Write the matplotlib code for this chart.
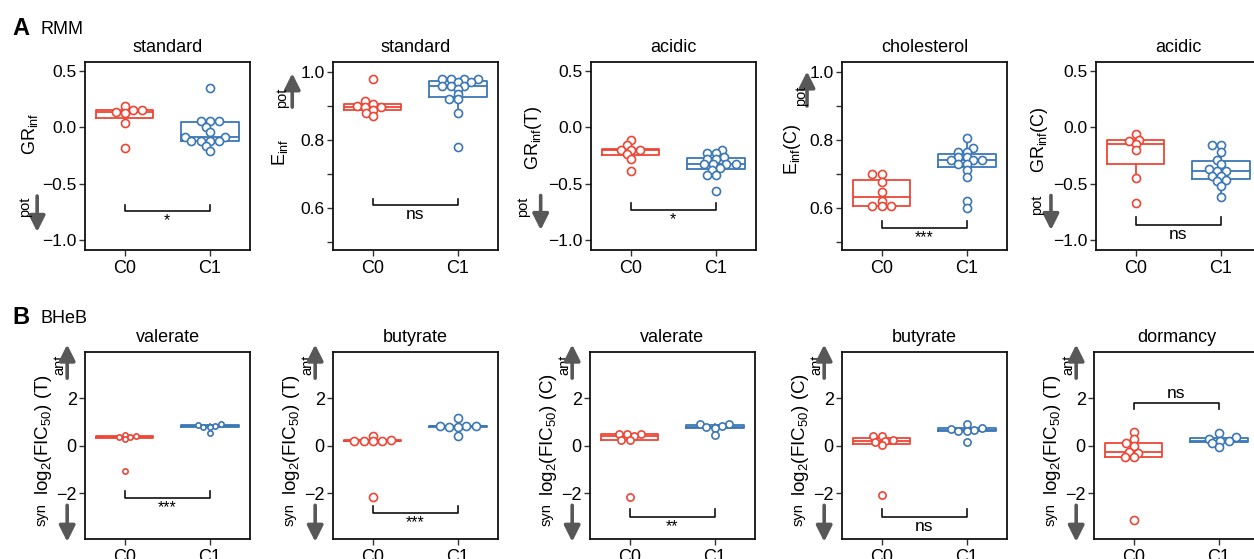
import numpy as np
import matplotlib.pyplot as plt

plt.rcParams['font.family'] = ['Liberation Sans', 'DejaVu Sans']
plt.rcParams['mathtext.fontset'] = 'custom'
plt.rcParams['mathtext.rm'] = 'Liberation Sans'
plt.rcParams['mathtext.it'] = 'Liberation Sans:italic'
plt.rcParams['mathtext.bf'] = 'Liberation Sans:bold'

RED = '#EE4636'
BLUE = '#3C77B6'
ARROW = '#585858'

groups = ['C0', 'C1']

# --- row A: RMM ---
a_titles = ['standard', 'standard', 'acidic', 'cholesterol', 'acidic']
a_ylabels = [r'GR$_{\rm inf}$', r'E$_{\rm inf}$', r'GR$_{\rm inf}$(T)',
             r'E$_{\rm inf}$(C)', r'GR$_{\rm inf}$(C)']
a_sig = ['*', 'ns', '*', '***', 'ns']

a1_c0 = [0.19, 0.15, 0.15, 0.14, 0.13, 0.04, -0.18]
a1_c1 = [0.35, 0.06, 0.06, 0.06, 0.0, -0.04, -0.09, -0.09, -0.12, -0.12,
         -0.12, -0.12, -0.17, -0.21]
a2_c0 = [0.98, 0.915, 0.907, 0.90, 0.897, 0.897, 0.889, 0.88, 0.87]
a2_c1 = [0.98, 0.98, 0.98, 0.98, 0.97, 0.97, 0.96, 0.96, 0.96, 0.95, 0.935,
         0.92, 0.92, 0.88, 0.78]
a3_c0 = [-0.11, -0.16, -0.20, -0.20, -0.20, -0.24, -0.28, -0.39]
a3_c1 = [-0.20, -0.23, -0.23, -0.26, -0.28, -0.28, -0.33, -0.33, -0.33,
         -0.33, -0.36, -0.38, -0.42, -0.42, -0.57]
a4_c0 = [0.70, 0.70, 0.675, 0.645, 0.62, 0.605, 0.605, 0.605]
a4_c1 = [0.805, 0.775, 0.765, 0.765, 0.75, 0.75, 0.74, 0.74, 0.74, 0.73,
         0.73, 0.71, 0.69, 0.62, 0.60]
a5_c0 = [-0.06, -0.11, -0.12, -0.15, -0.20, -0.45, -0.67]
a5_c1 = [-0.16, -0.16, -0.22, -0.29, -0.33, -0.37, -0.39, -0.39, -0.43,
         -0.43, -0.47, -0.48, -0.52, -0.62]

# --- row B: BHeB ---
b_titles = ['valerate', 'butyrate', 'valerate', 'butyrate', 'dormancy']
b_ylabels = [r'log$_2$(FIC$_{50}$) (T)', r'log$_2$(FIC$_{50}$) (T)',
             r'log$_2$(FIC$_{50}$) (C)', r'log$_2$(FIC$_{50}$) (C)',
             r'log$_2$(FIC$_{50}$) (T)']
b_sig = ['***', '***', '**', 'ns', 'ns']

b1_c0 = [0.47, 0.42, 0.38, 0.35, 0.30, -1.07]
b1_c1 = [0.90, 0.88, 0.85, 0.80, 0.78, 0.52]
b2_c0 = [0.42, 0.23, 0.22, 0.21, 0.20, 0.19, -2.15]
b2_c1 = [1.18, 0.85, 0.83, 0.82, 0.80, 0.78, 0.42]
b3_c0 = [0.49, 0.49, 0.49, 0.40, 0.25, 0.24, -2.15]
b3_c1 = [0.92, 0.90, 0.82, 0.78, 0.75, 0.45]
b4_c0 = [0.42, 0.40, 0.25, 0.20, 0.15, 0.03, -2.08]
b4_c1 = [0.91, 0.75, 0.72, 0.66, 0.62, 0.60, 0.17]
b5_c0 = [0.59, 0.30, 0.10, 0.0, -0.28, -0.30, -0.46, -0.48, -3.13]
b5_c1 = [0.52, 0.35, 0.30, 0.20, 0.18, 0.10, -0.04]

a_data = [(a1_c0, a1_c1), (a2_c0, a2_c1), (a3_c0, a3_c1), (a4_c0, a4_c1), (a5_c0, a5_c1)]
b_data = [(b1_c0, b1_c1), (b2_c0, b2_c1), (b3_c0, b3_c1), (b4_c0, b4_c1), (b5_c0, b5_c1)]

# --- layout (pixels / axes fractions) ---
W, H = 1254, 559
a_left = [85, 333, 591, 842, 1096]
b_left = [85, 333, 590, 842, 1094]
AX_W = 165
a_bottom, a_h = 250, 188
b_bottom, b_h = 539, 187

GR_LIM = (-1.09, 0.58)
E_LIM = (0.475, 1.03)
a_ylims = [GR_LIM, E_LIM, GR_LIM, E_LIM, GR_LIM]
b_ylim = (-3.93, 3.95)

# bracket bar y / tick end y (data units)
a_bar = [(-0.74, -0.69), (0.609, 0.626), (-0.734, -0.675), (0.539, 0.56), (-0.868, -0.80)]
b_bar = [(-2.22, -1.9), (-2.82, -2.54), (-2.99, -2.68), (-2.99, -2.68), (1.81, 1.53)]

# ylabel pos, arrow x, arrow from/to, "pot" pos
a_lab = [(-0.333, 0.617), (-0.32, 0.52), (-0.35, 0.60), (-0.297, 0.537), (-0.34, 0.585)]
a_arrow = [(-0.29, 0.287, 0.096), (-0.247, 0.76, 0.94), (-0.305, 0.29, 0.106),
           (-0.212, 0.766, 0.95), (-0.273, 0.29, 0.106)]
a_pot = [(-0.364, 0.229), (-0.307, 0.81), (-0.41, 0.23), (-0.25, 0.82), (-0.36, 0.24)]

a_ms = [5.8, 5.8, 5.8, 5.8, 5.8]
b_ms = [3.8, 5.8, 5.2, 5.2, 5.8]


def swarm(vals, dx, dy_lim, ypx):
    # beeswarm-like offsets (pixels); collision tested with an ellipse
    ys = np.asarray(vals, dtype=float) * ypx
    xs = np.zeros(len(ys))
    placed = []
    for i in np.argsort(ys, kind='stable'):
        y = ys[i]
        cands = [0.0]
        for px, py in placed:
            dy = abs(y - py)
            if dy < dy_lim:
                off = dx * np.sqrt(1 - (dy / dy_lim) ** 2)
                cands += [px - off, px + off]
        cands.sort(key=lambda c: (abs(c), c))
        for c in cands:
            if all(((c - px) / dx) ** 2 + ((y - py) / dy_lim) ** 2 >= 1 - 1e-6
                   for px, py in placed):
                xs[i] = c
                break
        placed.append((xs[i], y))
    return xs


def draw_panel(ax, c0, c1, title, ylim, ms, ax_h):
    xlim = (0.535, 2.475)
    ax.set_xlim(xlim)
    ax.set_ylim(ylim)
    xpx = AX_W / (xlim[1] - xlim[0])
    ypx = ax_h / (ylim[1] - ylim[0])
    for k, (vals, col) in enumerate([(c0, RED), (c1, BLUE)]):
        bp = ax.boxplot([vals], positions=[k + 1], widths=0.68, showfliers=False,
                        showcaps=False, manage_ticks=False)
        for part in ('boxes', 'medians', 'whiskers'):
            for ln in bp[part]:
                ln.set_color(col)
                ln.set_linewidth(1.3)
                ln.set_zorder(2)
        d = ms * 100 / 72 + 1.0
        off = swarm(vals, d, 0.55 * d, ypx) / xpx
        ax.plot(k + 1 + off, vals, 'o', mfc='white', mec=col, ms=ms, mew=1.2,
                zorder=3, clip_on=False)
    ax.set_xticks([1, 2])
    ax.set_xticklabels(groups)
    ax.set_title(title, fontsize=13, pad=7)
    for s in ax.spines.values():
        s.set_linewidth(1.3)
        s.set_color('#111111')
    ax.tick_params(axis='both', length=4, width=1, color='#333333')
    ax.tick_params(axis='x', labelsize=13, pad=3)


def bracket(ax, bar, tip, label):
    ax.plot([1, 1, 2, 2], [tip, bar, bar, tip], color='#111111', lw=1.2, zorder=4)
    fs = 12.5 if label == 'ns' else 11.5
    if tip > bar:
        ax.annotate(label, xy=(1.5, bar), xytext=(0, -1.5), textcoords='offset points',
                    ha='center', va='top', fontsize=fs)
    else:
        ax.annotate(label, xy=(1.5, bar), xytext=(0, 1.5), textcoords='offset points',
                    ha='center', va='bottom', fontsize=fs)


def arrow(ax, x, y0, y1):
    ax.annotate('', xy=(x, y1), xytext=(x, y0), xycoords='axes fraction',
                arrowprops=dict(arrowstyle='-|>,head_width=0.4,head_length=0.8',
                                color=ARROW, lw=2.6, mutation_scale=12,
                                shrinkA=0, shrinkB=0))


fig = plt.figure(figsize=(W / 100, H / 100), dpi=100)

for i in range(5):
    ax = fig.add_axes([a_left[i] / W, (H - a_bottom) / H, AX_W / W, a_h / H])
    c0, c1 = a_data[i]
    draw_panel(ax, c0, c1, a_titles[i], a_ylims[i], a_ms[i], a_h)
    if a_ylims[i] == E_LIM:
        ax.set_yticks(np.arange(0.5, 1.01, 0.1))
        ax.set_yticklabels(['' if abs(t * 10 % 2 - 1) < 0.01 else f'{t:.1f}'
                            for t in np.arange(0.5, 1.01, 0.1)])
    else:
        ax.set_yticks([0.5, 0.0, -0.5, -1.0])
        ax.set_yticklabels(['0.5', '0.0', '\u22120.5', '\u22121.0'])
    ax.tick_params(axis='y', labelsize=12.5, pad=2)
    bracket(ax, a_bar[i][0], a_bar[i][1], a_sig[i])
    lx, ly = a_lab[i]
    ax.text(lx, ly, a_ylabels[i], transform=ax.transAxes, rotation=90,
            ha='center', va='center', fontsize=13)
    ax_x, y0, y1 = a_arrow[i]
    arrow(ax, ax_x, y0, y1)
    px, py = a_pot[i]
    ax.text(px, py, 'pot', transform=ax.transAxes, rotation=90,
            ha='center', va='center', fontsize=10.5)

for i in range(5):
    ax = fig.add_axes([b_left[i] / W, (H - b_bottom) / H, AX_W / W, b_h / H])
    c0, c1 = b_data[i]
    draw_panel(ax, c0, c1, b_titles[i], b_ylim, b_ms[i], b_h)
    ax.set_yticks([2, 0, -2])
    ax.set_yticklabels(['2', '0', '\u22122'])
    ax.tick_params(axis='y', labelsize=13, pad=2)
    bracket(ax, b_bar[i][0], b_bar[i][1], b_sig[i])
    ax.text(-0.25, 0.56, b_ylabels[i], transform=ax.transAxes, rotation=90,
            ha='center', va='center', fontsize=13.5)
    ax.text(-0.155, 0.93, 'ant', transform=ax.transAxes, rotation=90,
            ha='center', va='center', fontsize=10.5)
    ax.text(-0.262, 0.13, 'syn', transform=ax.transAxes, rotation=90,
            ha='center', va='center', fontsize=10.5)
    arrow(ax, -0.108, 0.86, 1.04)
    arrow(ax, -0.108, 0.18, -0.015)

fig.text(12 / W, 1 - 35 / H, 'A', fontsize=17, weight='bold', va='baseline')
fig.text(41 / W, 1 - 34 / H, 'RMM', fontsize=13, va='baseline')
fig.text(12 / W, 1 - 324 / H, 'B', fontsize=17, weight='bold', va='baseline')
fig.text(41 / W, 1 - 323 / H, 'BHeB', fontsize=13, va='baseline')

fig.savefig('out.png', dpi=100)
